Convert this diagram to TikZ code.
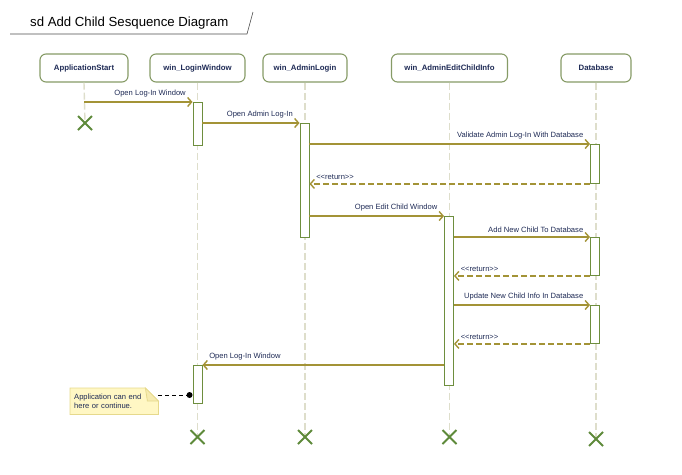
\documentclass[tikz,border=0pt]{standalone}
\usepackage{fontspec}
\setmainfont{Liberation Sans}
\usetikzlibrary{arrows.meta,calc,backgrounds}
\definecolor{msg}{HTML}{A39336}
\definecolor{act}{HTML}{6E8E3E}
\definecolor{hdr}{HTML}{869B66}
\definecolor{life}{HTML}{DEDECB}
\definecolor{txt}{HTML}{1E2A55}
\definecolor{xmark}{HTML}{5E8A3A}
\definecolor{notefill}{HTML}{FFF7C4}
\definecolor{noteline}{HTML}{E6D98C}
\definecolor{notefold}{HTML}{F6EBB0}
\begin{document}
\begin{tikzpicture}[x=1pt,y=-1pt,
  head/.style={draw=hdr, line width=1.1pt, rounded corners=6pt, fill=white,
    font=\fontsize{7.8}{9}\selectfont\bfseries, text=txt, minimum height=28pt, inner sep=0pt},
  lifeline/.style={draw=life, line width=1.4pt, dash pattern=on 7pt off 3pt},
  actbox/.style={draw=act, fill=white, line width=0.9pt, minimum width=9pt, inner sep=0pt, anchor=north},
  call/.style={draw=msg, line width=1.6pt, -{Straight Barb[length=4pt,width=9pt,line width=1.4pt]}},
  reply/.style={call, dash pattern=on 6pt off 3pt},
  lbl/.style={font=\fontsize{7.6}{9}\selectfont, text=txt, inner sep=0pt},
  lblr/.style={lbl, anchor=south east, xshift=-6pt, yshift=4pt},
  lbll/.style={lbl, anchor=south west, xshift=6pt, yshift=4pt},
  endmark/.style={draw=xmark, line width=1.9pt},
]
\useasboundingbox (0,0) rectangle (682,474);

% diagram frame title
\node[font=\fontsize{13.2}{15}\selectfont, text=black, anchor=west, inner sep=0pt] (title) at (30,23) {sd Add Child Sesquence Diagram};
\draw[draw=black!70, line width=0.6pt] (10,34) -- (247,34) -- (253,12);

% lifeline heads
\node[head, minimum width=88pt] (app) at (84,68) {ApplicationStart};
\node[head, minimum width=95pt] (lw)  at (197.5,68) {win\_LoginWindow};
\node[head, minimum width=84pt] (al)  at (305,68) {win\_AdminLogin};
\node[head, minimum width=116pt] (ed) at (449.5,68) {win\_AdminEditChildInfo};
\node[head, minimum width=70pt] (db)  at (596,68) {Database};

% destruction points
\coordinate (xapp) at (85,123);
\coordinate (xlw)  at (197.5,437);
\coordinate (xal)  at (305,437);
\coordinate (xed)  at (449.5,437);
\coordinate (xdb)  at (596,439);

% lifelines
\draw[lifeline] (app.south) -- (xapp);
\draw[lifeline] (lw.south) -- (xlw);
\draw[lifeline] (al.south) -- (xal);
\draw[lifeline] (ed.south) -- (xed);
\draw[lifeline] (db.south) -- (xdb);

% end markers
\foreach \p in {xapp,xlw,xal,xed,xdb}
  \draw[endmark] ($(\p)+(-7,-7)$) -- ($(\p)+(7,7)$) ($(\p)+(-7,7)$) -- ($(\p)+(7,-7)$);

% activation bars
\node[actbox, minimum height=43pt] (lw1) at (197.5,102) {};
\node[actbox, minimum height=114pt] (al1) at (304.5,123) {};
\node[actbox, minimum height=39pt] (db1) at (595,144) {};
\node[actbox, minimum height=169pt] (ed1) at (449,216) {};
\node[actbox, minimum height=38pt] (db2) at (595,237) {};
\node[actbox, minimum height=38pt] (db3) at (595,305) {};
\node[actbox, minimum height=38pt] (lw2) at (197.5,365) {};

% messages
\draw[call] (app.south |- lw1.north) -- (lw1.north west)
  node[lblr] {Open Log-In Window};
\draw[call] (lw1.east |- al1.north) -- (al1.north west)
  node[lblr] {Open Admin Log-In};
\draw[call] (al1.east |- db1.north) -- (db1.north west)
  node[lblr] {Validate Admin Log-In With Database};
\draw[reply] (db1.south west) -- (al1.east |- db1.south)
  node[lbll] {{<}{<}return{>}{>}};
\draw[call] (al1.east |- ed1.north) -- (ed1.north west)
  node[lblr] {Open Edit Child Window};
\draw[call] (ed1.east |- db2.north) -- (db2.north west)
  node[lblr] {Add New Child To Database};
\draw[reply] (db2.south west) -- (ed1.east |- db2.south)
  node[lbll] {{<}{<}return{>}{>}};
\draw[call] (ed1.east |- db3.north) -- (db3.north west)
  node[lblr] {Update New Child Info In Database};
\draw[reply] (db3.south west) -- (ed1.east |- db3.south)
  node[lbll] {{<}{<}return{>}{>}};
\draw[call] (ed1.west |- lw2.north) -- (lw2.north east)
  node[lbll] {Open Log-In Window};

% comment note with folded corner
\node[lbl, anchor=north west, minimum width=88pt, minimum height=26pt, align=left,
  text width=80pt, inner xsep=4pt, inner ysep=2pt] (note) at (70,388)
  {Application can end\\here or continue.};
\begin{scope}[on background layer]
  \draw[noteline, fill=notefill, line width=0.8pt] (note.north west) -- ($(note.north east)+(-13,0)$)
    -- ($(note.north east)+(0,13)$) -- (note.south east) -- (note.south west) -- cycle;
  \draw[noteline, fill=notefold, line width=0.8pt] ($(note.north east)+(-13,0)$)
    -- ($(note.north east)+(-11,13)$) -- ($(note.north east)+(0,13)$) -- cycle;
\end{scope}
\coordinate (anchorpt) at ($(lw2.north west)+(-3,30)$);
\draw[black, line width=0.7pt, dash pattern=on 4pt off 3pt] (note.east |- anchorpt) -- (anchorpt);
\fill[black] (anchorpt) circle (3pt);
\end{tikzpicture}
\end{document}
